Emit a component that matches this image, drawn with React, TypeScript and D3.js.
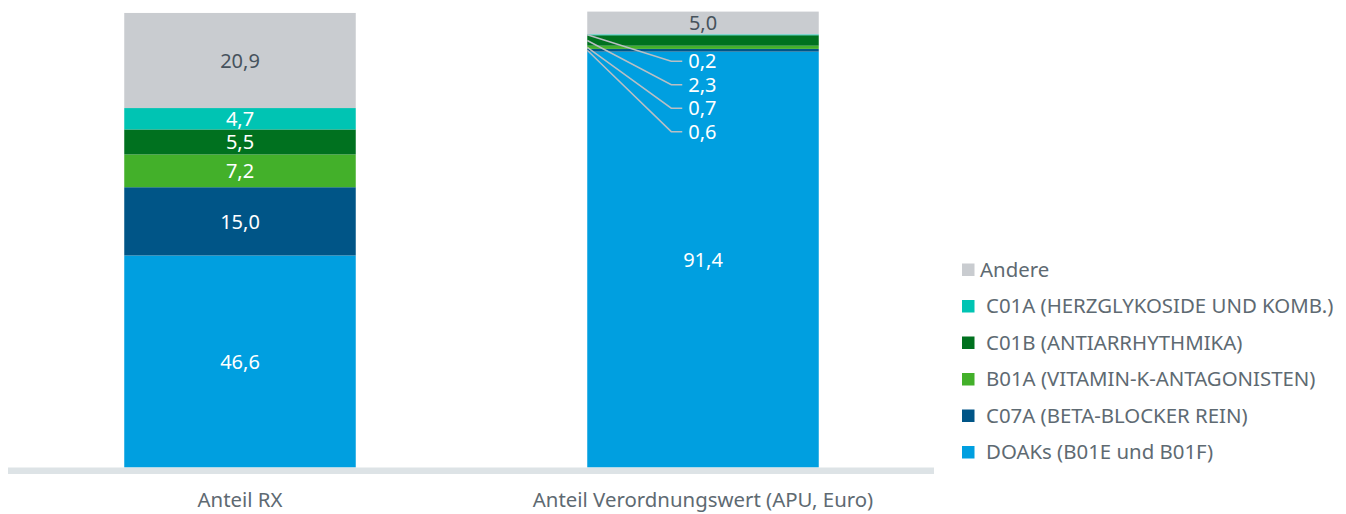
import React from "react";
import * as d3 from "d3";

const categories = ["Anteil RX", "Anteil Verordnungswert (APU, Euro)"];
const seriesNames = [
  "DOAKs (B01E und B01F)",
  "C07A (BETA-BLOCKER REIN)",
  "B01A (VITAMIN-K-ANTAGONISTEN)",
  "C01B (ANTIARRHYTHMIKA)",
  "C01A (HERZGLYKOSIDE UND KOMB.)",
  "Andere",
];
const seriesColors = ["#009fe0", "#005587", "#43b02a", "#00711f", "#00c4b3", "#c9ccd0"];
const rxValues = [46.6, 15.0, 7.2, 5.5, 4.7, 20.9];
const apuValues = [91.4, 0.6, 0.7, 2.3, 0.2, 5.0];
const valuesByCategory = [rxValues, apuValues];

const W = 1346;
const H = 514;
const FONT = "'Noto Sans', 'Open Sans', sans-serif";
const TEXT = "#5e6a72";

const fmt = (v: number) => v.toFixed(1).replace(".", ",");

export default function App() {
  const x = d3.scaleBand<string>().domain(categories).range([8.5, 934.5]).paddingInner(0.5).paddingOuter(0.25);
  const y = d3.scaleLinear().domain([0, 100]).range([467.5, 12.5]);

  const rows = categories.map((c, ci) => {
    const o: any = { cat: c };
    seriesNames.forEach((s, si) => (o[s] = valuesByCategory[ci][si]));
    return o;
  });
  const stack = d3.stack<any>().keys(seriesNames);
  const layers = stack(rows);

  const bw = x.bandwidth();

  const smallIdx = [4, 3, 2, 1];
  const ci2 = 1;
  const cat2 = categories[ci2];
  const x2 = x(cat2)!;
  const doaksTop = y(layers[0][ci2][1]);

  return (
    <svg width={W} height={H} style={{ display: "block", position: "absolute", left: 0, top: 0 }} fontFamily={FONT}>
      {layers.map((layer, si) =>
        layer.map((d, ci) => {
          const cat = categories[ci];
          const y0 = y(d[0]);
          const y1 = y(d[1]);
          return (
            <rect key={`${si}-${ci}`} x={x(cat)} y={y1} width={bw} height={Math.max(0, y0 - y1)} fill={seriesColors[si]} />
          );
        })
      )}
      {layers.map((layer, si) =>
        layer.map((d, ci) => {
          const cat = categories[ci];
          const v = valuesByCategory[ci][si];
          if (ci === 1 && smallIdx.includes(si)) return null;
          const yc = y((d[0] + d[1]) / 2);
          return (
            <text
              key={`l${si}-${ci}`}
              x={x(cat)! + bw / 2}
              y={yc}
              dy="0.36em"
              textAnchor="middle"
              fontSize={20}
              fill={si === 5 ? "#46525c" : "#ffffff"}
            >
              {fmt(v)}
            </text>
          );
        })
      )}
      {smallIdx.map((si, i) => {
        const d = layers[si][ci2];
        const sy = y((d[0] + d[1]) / 2);
        const ly = doaksTop + 9.5 + i * 23.5;
        const ex = x2 + 84;
        return (
          <g key={`lead${si}`}>
            <polyline points={`${x2},${sy} ${ex},${ly} ${ex + 11},${ly}`} fill="none" stroke="#b9bfc4" strokeWidth={1.5} />
            <text x={ex + 17} y={ly} dy="0.36em" fontSize={20} fill="#ffffff">
              {fmt(valuesByCategory[ci2][si])}
            </text>
          </g>
        );
      })}
      <rect x={8} y={467.5} width={926} height={6.5} fill="#dde3e6" />
      {categories.map((c) => (
        <text key={c} x={x(c)! + bw / 2} y={499.5} dy="0.36em" textAnchor="middle" fontSize={20.4} fill={TEXT}>
          {c}
        </text>
      ))}
      {seriesNames
        .slice()
        .reverse()
        .map((s, i) => {
          const si = seriesNames.length - 1 - i;
          const cy = 269.5 + i * 36.5;
          const isAndere = s === "Andere";
          return (
            <g key={s}>
              <rect x={962} y={cy - 6} width={12.5} height={12.5} fill={seriesColors[si]} />
              <text x={isAndere ? 980 : 986} y={cy} dy="0.36em" fontSize={20.4} fill={TEXT}>
                {s}
              </text>
            </g>
          );
        })}
    </svg>
  );
}
